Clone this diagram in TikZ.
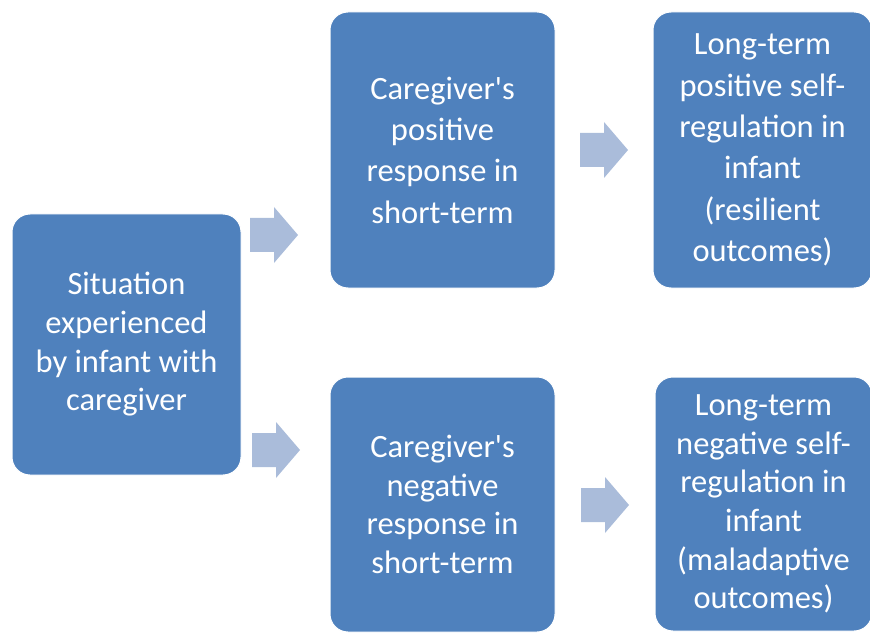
\documentclass[tikz,border=0pt]{standalone}
\usepackage{fontspec}
\setmainfont{Carlito}
\usetikzlibrary{positioning}
\definecolor{boxblue}{RGB}{79,129,189}
\definecolor{arrowblue}{RGB}{170,188,218}

\begin{document}
\begin{tikzpicture}[x=1pt,y=1pt,
	stage/.style={draw=white,line width=1pt,fill=boxblue,rounded corners=18pt,text=white,align=center,inner sep=0pt,font=\fontsize{32.5}{38.7}\selectfont},
	tall/.style={font=\fontsize{32.5}{41.3}\selectfont},
	fwd/.pic={\fill[arrowblue] (0,-17) -- (24,-17) -- (24,-28) -- (48,0) -- (24,28) -- (24,17) -- (0,17) -- cycle;}]
	\useasboundingbox (0,0) rectangle (870,633);
	\clip (0,0) rectangle (870,633);
%	\draw[lightgray,step=50] (0,0) grid (870,633);
	\node[stage,minimum width=229,minimum height=261] (situation) at (126.5,288.5) {Situation\\experienced\\by infant with\\caregiver};
	\node[stage,tall,minimum width=225,minimum height=276] (posshort) at (442.5,483) {Caregiver\textquotesingle s\\positive\\response in\\short-term};
	\node[stage,tall,minimum width=219,minimum height=276] (poslong) at (762.5,483) {Long-term\\positive self-\\regulation in\\infant\\(resilient\\outcomes)};
	\node[stage,minimum width=225,minimum height=255] (negshort) at (442.5,128.5) {Caregiver\textquotesingle s\\negative\\response in\\short-term};
	\node[stage,minimum width=217,minimum height=254] (neglong) at (763.5,129) {Long-term\\negative self-\\regulation in\\infant\\(maladaptive\\outcomes)};
	% block arrows
	\pic at (250,398) {fwd};
	\pic at (252,183) {fwd};
	\pic at (580,483) {fwd};
	\pic at (581,128) {fwd};
\end{tikzpicture}
\end{document}
